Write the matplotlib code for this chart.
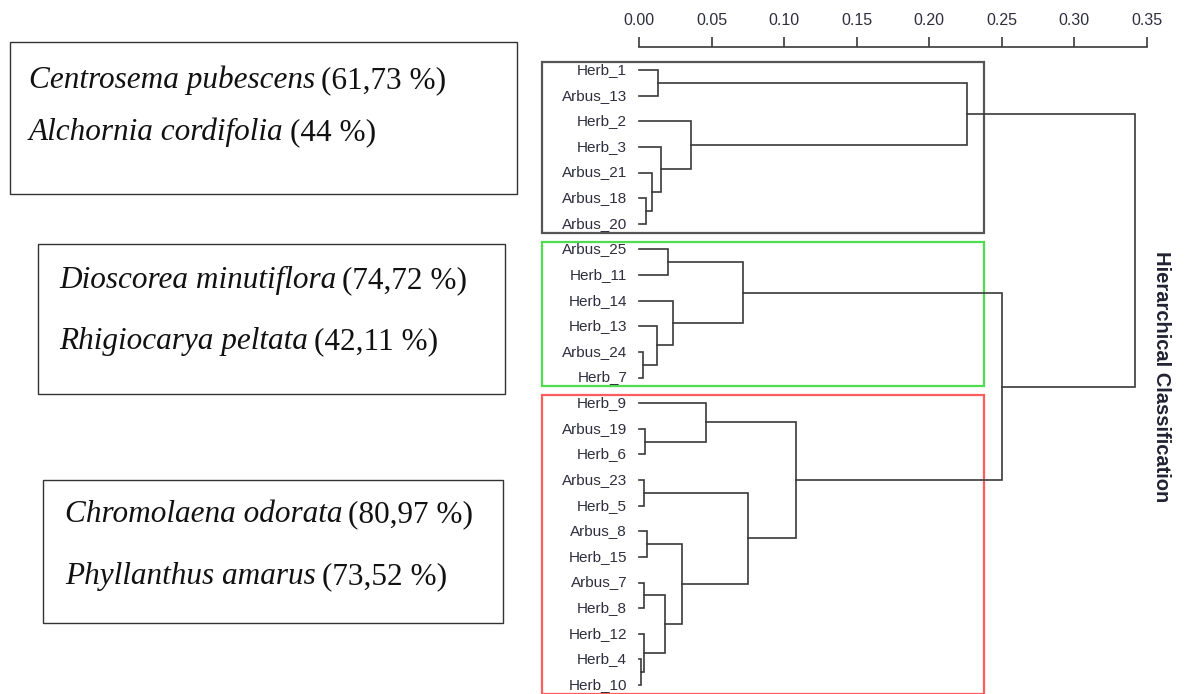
import matplotlib
matplotlib.use('Agg')
import matplotlib.pyplot as plt
from matplotlib.patches import Rectangle

# leaves, top to bottom
leaves = ['Herb_1', 'Arbus_13', 'Herb_2', 'Herb_3', 'Arbus_21', 'Arbus_18', 'Arbus_20',
          'Arbus_25', 'Herb_11', 'Herb_14', 'Herb_13', 'Arbus_24', 'Herb_7',
          'Herb_9', 'Arbus_19', 'Herb_6', 'Arbus_23', 'Herb_5', 'Arbus_8', 'Herb_15',
          'Arbus_7', 'Herb_8', 'Herb_12', 'Herb_4', 'Herb_10']

# merges: (child a, child b, height); ints refer to earlier merges
merges = [
    ('Herb_1', 'Arbus_13', 0.0133),   # 0
    ('Arbus_18', 'Arbus_20', 0.0048), # 1
    ('Arbus_21', 1, 0.0087),          # 2
    ('Herb_3', 2, 0.0150),            # 3
    ('Herb_2', 3, 0.0360),            # 4
    (0, 4, 0.2260),                   # 5
    ('Arbus_25', 'Herb_11', 0.0202),  # 6
    ('Arbus_24', 'Herb_7', 0.0030),   # 7
    ('Herb_13', 7, 0.0122),           # 8
    ('Herb_14', 8, 0.0236),           # 9
    (6, 9, 0.0719),                   # 10
    ('Arbus_19', 'Herb_6', 0.0041),   # 11
    ('Herb_9', 11, 0.0460),           # 12
    ('Arbus_23', 'Herb_5', 0.0034),   # 13
    ('Arbus_8', 'Herb_15', 0.0053),   # 14
    ('Arbus_7', 'Herb_8', 0.0034),    # 15
    ('Herb_4', 'Herb_10', 0.0011),    # 16
    ('Herb_12', 16, 0.0036),          # 17
    (15, 17, 0.0179),                 # 18
    (14, 18, 0.0294),                 # 19
    (13, 19, 0.0753),                 # 20
    (12, 20, 0.1080),                 # 21
    (10, 21, 0.2500),                 # 22
    (5, 22, 0.3420),                  # 23
]

xticks = [0.00, 0.05, 0.10, 0.15, 0.20, 0.25, 0.30, 0.35]

# cluster rectangles (first leaf, last leaf, colour)
groups = [('Herb_1', 'Arbus_20', '#555555'),
          ('Arbus_25', 'Herb_7', '#4fdc4f'),
          ('Herb_9', 'Herb_10', '#ff5c5c')]

species = [
    [('Centrosema pubescens', '(61,73 %)'), ('Alchornia cordifolia', '(44 %)')],
    [('Dioscorea minutiflora', '(74,72 %)'), ('Rhigiocarya peltata', '(42,11 %)')],
    [('Chromolaena odorata', '(80,97 %)'), ('Phyllanthus amarus', '(73,52 %)')],
]

W, H = 1188, 694
fig = plt.figure(figsize=(W / 100, H / 100), dpi=100)

def fx(px): return px / W
def fy(py): return 1 - py / H

# dendrogram axes: x 0..0.35 -> px 639..1147, leaf rows -> py 70..685
ax = fig.add_axes([fx(639), fy(685), fx(1147) - fx(639), fy(70) - fy(685)])
ax.set_xlim(0, 0.35)
ax.set_ylim(len(leaves) - 1, 0)

pos = {name: (0.0, i) for i, name in enumerate(leaves)}
line_col = '#3a3a3a'
for k, (a, b, h) in enumerate(merges):
    ha_, ya = pos[a]
    hb, yb = pos[b]
    ax.plot([ha_, h, h, hb], [ya, ya, yb, yb], color=line_col, lw=1.2,
            solid_joinstyle='miter', clip_on=False)
    pos[k] = (h, (ya + yb) / 2)

for i, name in enumerate(leaves):
    ax.annotate(name, xy=(0, i), xytext=(-8.5, 0), textcoords='offset points',
                ha='right', va='center', fontsize=11, color='#2e2e3e',
                family='Liberation Sans')

for first, last, col in groups:
    i0, i1 = leaves.index(first), leaves.index(last)
    ax.add_patch(Rectangle((-0.0665, i0 - 0.3), 0.2377 + 0.0665, i1 - i0 + 0.65,
                           fill=False, ec=col, lw=1.6, clip_on=False))

for s in ['left', 'right', 'bottom']:
    ax.spines[s].set_visible(False)
ax.spines['top'].set_position(('outward', 16.5))
ax.spines['top'].set_bounds(0, 0.35)
ax.spines['top'].set_color(line_col)
ax.spines['top'].set_linewidth(1.2)
ax.xaxis.tick_top()
ax.set_xticks(xticks)
ax.set_xticklabels(['%.2f' % t for t in xticks], family='Liberation Sans',
                   fontsize=11.5, color='#2e2e3e')
ax.tick_params(axis='x', direction='out', length=7, width=1.2, color=line_col, pad=7)
ax.set_yticks([])

fig.text(fx(1161), fy(377), 'Hierarchical Classification', rotation=-90,
         ha='center', va='center', fontsize=14.5, fontweight='bold',
         family='Liberation Sans', color='#222233')

# species boxes on the left
boxes = [(10, 42, 517, 194), (38, 244, 505, 394), (43, 480, 503, 623)]
text_x = [29, 59, 65]
text_y = [(77, 129), (277, 338), (511, 573)]

for (x0, y0, x1, y1), tx, tys, lines in zip(boxes, text_x, text_y, species):
    fig.add_artist(Rectangle((fx(x0), fy(y1)), fx(x1) - fx(x0), fy(y0) - fy(y1),
                             transform=fig.transFigure, fill=False,
                             ec='#333333', lw=1.0))
    for ty, (it, rest) in zip(tys, lines):
        t1 = fig.text(fx(tx), fy(ty), it, fontsize=22.5, style='italic',
                      family='Liberation Serif', va='center_baseline', color='#111111')
        fig.canvas.draw()
        bb = t1.get_window_extent()
        fig.text(bb.x1 / W + fx(6), fy(ty), rest, fontsize=22.5,
                 family='Liberation Serif', va='center_baseline', color='#111111')

fig.savefig('out.png', dpi=100)
